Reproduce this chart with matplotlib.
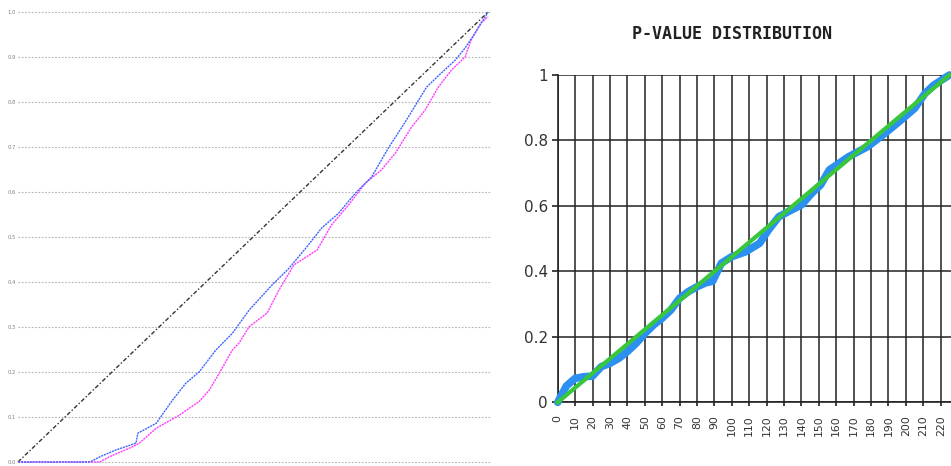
import matplotlib
matplotlib.use("Agg")
import matplotlib.pyplot as plt
import numpy as np

# ---------------- data ----------------
# Left panel: expected quantile (x) vs observed p-value (y)
left_ticks = [0.0, 0.1, 0.2, 0.3, 0.4, 0.5, 0.6, 0.7, 0.8, 0.9, 1.0]
left_tick_labels = ["0.0", "0.1", "0.2", "0.3", "0.4", "0.5", "0.6", "0.7", "0.8", "0.9", "1.0"]

blue_x = [0.0, 0.153, 0.175, 0.209, 0.251, 0.255, 0.294, 0.329, 0.357, 0.386, 0.421, 0.456,
          0.492, 0.540, 0.576, 0.612, 0.646, 0.682, 0.718, 0.752, 0.788, 0.824, 0.852, 0.869,
          0.900, 0.930, 0.951, 0.972, 1.0]
blue_y = [0.0, 0.0, 0.012, 0.027, 0.042, 0.064, 0.086, 0.138, 0.175, 0.201, 0.249, 0.286,
          0.338, 0.393, 0.430, 0.475, 0.520, 0.553, 0.598, 0.633, 0.698, 0.756, 0.804, 0.833,
          0.864, 0.893, 0.920, 0.953, 1.0]

mag_x = [0.0, 0.174, 0.195, 0.244, 0.258, 0.294, 0.343, 0.386, 0.407, 0.428, 0.456, 0.470,
         0.492, 0.530, 0.555, 0.587, 0.636, 0.667, 0.703, 0.739, 0.773, 0.803, 0.837, 0.866,
         0.894, 0.922, 0.951, 0.964, 0.985, 1.0]
mag_y = [0.0, 0.0, 0.012, 0.034, 0.042, 0.075, 0.104, 0.135, 0.160, 0.197, 0.249, 0.264,
         0.301, 0.331, 0.382, 0.438, 0.471, 0.527, 0.571, 0.620, 0.649, 0.687, 0.744, 0.782,
         0.833, 0.871, 0.900, 0.938, 0.976, 0.989]

ref_x = [0.0, 1.0]
ref_y = [0.0, 1.0]

# Right panel: rank vs sorted p-value
rank = [0, 3, 5, 10, 15, 20, 25, 30, 35, 40, 45, 50, 55, 60, 65, 70, 75, 80, 85, 89, 94,
        100, 108, 116, 121, 127, 134, 140, 146, 151, 156, 167, 178, 188, 196, 205, 211, 216, 225]
pval = [0.0, 0.03, 0.05, 0.073, 0.078, 0.08, 0.109, 0.119, 0.134, 0.155, 0.18, 0.21, 0.236,
        0.257, 0.282, 0.318, 0.338, 0.353, 0.365, 0.37, 0.425, 0.445, 0.46, 0.486, 0.526,
        0.567, 0.587, 0.603, 0.639, 0.664, 0.71, 0.75, 0.781, 0.822, 0.857, 0.898, 0.944,
        0.969, 1.0]
expected_rank = [0, 225]
expected_p = [0.0, 1.0]
right_yticks = [0, 0.2, 0.4, 0.6, 0.8, 1]
right_ytick_labels = ["0", "0.2", "0.4", "0.6", "0.8", "1"]
right_xticks = list(range(0, 230, 10))
right_xtick_labels = [str(v) for v in right_xticks]
title = "P-VALUE DISTRIBUTION"

# ---------------- figure ----------------
W, H = 951, 466
fig = plt.figure(figsize=(W / 100, H / 100), dpi=100)

# Left panel
axL = fig.add_axes([18 / W, (H - 462) / H, 472 / W, 450 / H])
axL.set_xlim(0, 1.004)
axL.set_ylim(0, 1)
for s in axL.spines.values():
    s.set_visible(False)
axL.set_xticks([])
axL.set_yticks(left_ticks)
axL.set_yticklabels(left_tick_labels)
axL.tick_params(axis="y", length=0, pad=1.5, labelsize=3.8, labelcolor="#808080")
for t in left_ticks:
    axL.axhline(t, color="#b4b4b4", lw=0.8, ls=(0, (1.5, 1.5)), zorder=1, clip_on=False)
axL.plot(ref_x, ref_y, color="#333333", lw=1.0, ls=(0, (3, 1.5, 1, 1.5)), zorder=3, clip_on=False)
axL.plot(mag_x, mag_y, color="#ff3cff", lw=1.0, ls=(0, (1.5, 0.6)), zorder=3, clip_on=False)
axL.plot(blue_x, blue_y, color="#3f64ff", lw=1.0, ls=(0, (1.5, 0.6)), zorder=4, clip_on=False)

# Right panel
x0 = 557.7
axR = fig.add_axes([x0 / W, (H - 402.3) / H, (W - x0) / W, 327.3 / H])
axR.set_xlim(0, 225.9)
axR.set_ylim(0, 1)
axR.spines["top"].set_visible(False)
axR.spines["right"].set_visible(False)
axR.spines["left"].set_color("#222222")
axR.spines["bottom"].set_color("#222222")
axR.spines["left"].set_linewidth(1.2)
axR.spines["bottom"].set_linewidth(1.2)
axR.set_yticks(right_yticks)
axR.set_yticklabels(right_ytick_labels)
axR.set_xticks(right_xticks)
axR.set_xticklabels(right_xtick_labels, rotation=90)
axR.tick_params(axis="y", length=4, width=1.2, color="#222222", pad=3,
                labelsize=11, labelcolor="#333333")
axR.tick_params(axis="x", length=3, width=1.2, color="#222222", pad=6.5,
                labelsize=7.8, labelcolor="#333333")
axR.grid(True, color="#222222", lw=1.1, zorder=1)
axR.set_axisbelow(True)
axR.plot(rank, pval, color="#2b90f0", lw=5.5, solid_capstyle="round",
         solid_joinstyle="round", zorder=3, clip_on=False)
axR.plot(expected_rank, expected_p, color="#38c63a", lw=3.0, zorder=4, clip_on=False)

fig.text(731.7 / W, 1 - 34 / H, title, ha="center", va="center",
         family="DejaVu Sans Mono", fontweight="bold", fontsize=12, color="#222222")

fig.savefig("out.png", dpi=100)
